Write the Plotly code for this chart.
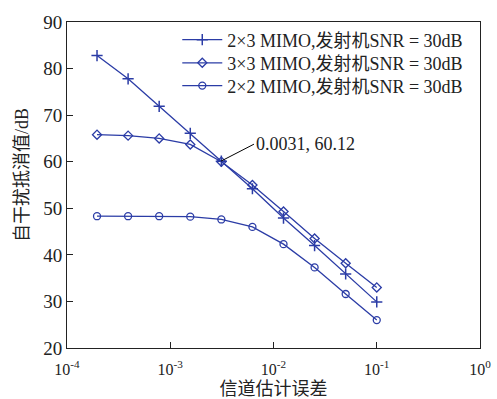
import numpy as np
import plotly.graph_objects as go

x_err = [1.953e-4, 3.906e-4, 7.8125e-4, 1.5625e-3, 3.125e-3, 6.25e-3, 1.25e-2, 2.5e-2, 5e-2, 1e-1]
y_2x3 = [82.8, 77.8, 71.9, 66.1, 60.12, 54.2, 47.9, 42.0, 35.9, 29.9]
y_3x3 = [65.8, 65.6, 65.0, 63.7, 60.0, 55.0, 49.3, 43.5, 38.2, 33.0]
y_2x2 = [48.3, 48.3, 48.3, 48.2, 47.6, 46.0, 42.3, 37.3, 31.6, 26.0]
names = ["2×3 MIMO,发射机SNR = 30dB", "3×3 MIMO,发射机SNR = 30dB", "2×2 MIMO,发射机SNR = 30dB"]
tick_vals = [1e-4, 1e-3, 1e-2, 1e-1, 1]
tick_text = ["10<sup>-4</sup>", "10<sup>-3</sup>", "10<sup>-2</sup>", "10<sup>-1</sup>", "10<sup>0</sup>"]
ann_x, ann_y = 3.1e-3, 60.12

color = "#2b3ca6"
font_fam = "Liberation Serif, Noto Sans CJK SC, serif"

fig = go.Figure()
markers = [
    dict(symbol="cross-thin", size=8, line=dict(color=color, width=1.5)),
    dict(symbol="diamond-open", size=7, line=dict(color=color, width=1.3)),
    dict(symbol="circle-open", size=7, line=dict(color=color, width=1.3)),
]
legend_ids = ["legend", "legend2", "legend3"]
for ys, nm, mk, lg in zip([y_2x3, y_3x3, y_2x2], names, markers, legend_ids):
    fig.add_trace(go.Scatter(x=x_err, y=ys, mode="lines+markers", name=nm,
                             line=dict(color=color, width=1.3),
                             marker=dict(color=color, **mk), legend=lg))

fig.add_annotation(x=np.log10(ann_x), y=ann_y, xref="x", yref="y",
                   text=f"{ann_x}, {ann_y}", showarrow=True, arrowhead=0,
                   arrowwidth=1, arrowcolor="black", ax=33, ay=-17,
                   xanchor="left", font=dict(size=18, color="#222", family=font_fam))
fig.add_annotation(x=-0.109, y=0.531, xref="paper", yref="paper",
                   text="自干扰抵消值/dB", textangle=-90, showarrow=False,
                   xanchor="center", yanchor="middle",
                   font=dict(size=18, color="#222", family=font_fam))

leg_common = dict(x=0.267, xanchor="left", yanchor="middle",
                  bgcolor="rgba(0,0,0,0)", font=dict(size=18), itemwidth=40)
fig.update_layout(
    width=497, height=399,
    margin=dict(l=67, r=17, t=22, b=51, autoexpand=False),
    paper_bgcolor="white", plot_bgcolor="white",
    font=dict(family=font_fam, size=18, color="#222"),
    legend=dict(y=0.945, **leg_common),
    legend2=dict(y=0.874, **leg_common),
    legend3=dict(y=0.804, **leg_common),
    showlegend=True,
)
fig.update_xaxes(type="log", range=[-4, 0], tickvals=tick_vals, ticktext=tick_text,
                 ticks="inside", ticklen=6, tickcolor="#222", showline=True,
                 linecolor="#222", linewidth=1, mirror=True, showgrid=False,
                 automargin=False, ticklabelstandoff=7,
                 title=dict(text="信道估计误差", font=dict(size=18), standoff=6),
                 tickfont=dict(size=16))
fig.update_yaxes(range=[20, 90], dtick=10, ticks="inside", ticklen=6, tickcolor="#222",
                 showline=True, linecolor="#222", linewidth=1, mirror=True,
                 showgrid=False, zeroline=False, automargin=False,
                 tickfont=dict(size=19))

fig.write_html("out.html", config={"displayModeBar": False},
               post_script="document.body.style.margin='0px';")
